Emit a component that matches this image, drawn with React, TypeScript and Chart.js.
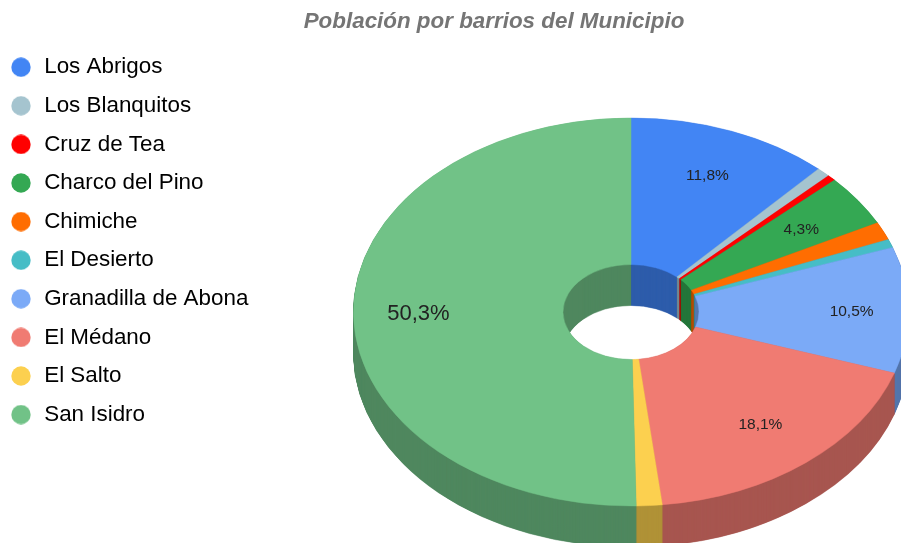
import React, { useEffect, useRef } from "react";
import { Chart, registerables } from "chart.js";

Chart.register(...registerables);

const chartTitle = "Población por barrios del Municipio";
const barrios = [
  "Los Abrigos",
  "Los Blanquitos",
  "Cruz de Tea",
  "Charco del Pino",
  "Chimiche",
  "El Desierto",
  "Granadilla de Abona",
  "El Médano",
  "El Salto",
  "San Isidro",
];
const poblacion = [11.8, 0.8, 0.5, 4.3, 1.5, 0.7, 10.5, 18.1, 1.5, 50.3];
const colores = [
  "#4285f4",
  "#a5c4cf",
  "#ff0000",
  "#34a853",
  "#ff6d01",
  "#46bdc6",
  "#7baaf7",
  "#f07b72",
  "#fcd04f",
  "#71c287",
];

const CX = 631;
const CY = 312;
const RX = 277.5;
const RY = 194;
const DEPTH = 41;
const SHADE = 0.7;
const MIN_LABEL = 4;
const labelRadius = new Map<number, number>([
  [11.8, 0.76],
  [4.3, 0.75],
  [10.5, 0.795],
  [18.1, 0.74],
  [50.3, 0.766],
]);

const shade = (hex: string) => {
  const n = parseInt(hex.slice(1), 16);
  const c = (v: number) => Math.round(v * SHADE);
  return `rgb(${c((n >> 16) & 255)},${c((n >> 8) & 255)},${c(n & 255)})`;
};

const dot = (color: string) => {
  const c = document.createElement("canvas");
  c.width = 24;
  c.height = 20;
  const x = c.getContext("2d")!;
  x.fillStyle = color;
  x.beginPath();
  x.arc(12, 10, 9.7, 0, Math.PI * 2);
  x.fill();
  return c;
};

const pie3d = {
  id: "pie3d",
  afterLayout(chart: any) {
    const t = chart.titleBlock;
    const w = t.right - t.left;
    t.left = 494 - w / 2;
    t.right = 494 + w / 2;
    const l = chart.legend;
    const p = l.options.labels.padding;
    l.left = 9 - p;
    l.top = 56 - p;
    l.bottom = 543;
  },
  beforeDatasetsDraw(chart: any) {
    const { ctx } = chart;
    const arcs = chart.getDatasetMeta(0).data;
    const place = (arc: any, d: number) => {
      const s = RX / arc.outerRadius;
      const v = RY / arc.outerRadius;
      ctx.setTransform(s, 0, 0, v, CX - arc.x * s, CY + d - arc.y * v);
    };
    ctx.save();
    for (let d = DEPTH; d > 0; d -= 0.5) {
      arcs.forEach((arc: any, i: number) => {
        const own = arc.options;
        const dark = shade(colores[i]);
        arc.options = { ...own, backgroundColor: dark, borderColor: dark };
        place(arc, d);
        arc.draw(ctx);
        arc.options = own;
      });
    }
    arcs.forEach((arc: any) => {
      place(arc, 0);
      arc.draw(ctx);
    });
    ctx.setTransform(1, 0, 0, 1, 0, 0);
    ctx.restore();

    ctx.save();
    ctx.textAlign = "center";
    ctx.textBaseline = "middle";
    ctx.fillStyle = "#222222";
    arcs.forEach((arc: any, i: number) => {
      const value = poblacion[i];
      if (value < MIN_LABEL) return;
      const mid = (arc.startAngle + arc.endAngle) / 2;
      const size = value >= 50 ? 22 : 15.5;
      const r = labelRadius.get(value) ?? 0.76;
      ctx.font = `${size}px "Liberation Sans"`;
      ctx.fillText(
        `${value.toFixed(1).replace(".", ",")}%`,
        CX + Math.cos(mid) * RX * r,
        CY + Math.sin(mid) * RY * r + 1
      );
    });
    ctx.restore();
    return false;
  },
};

export default function App() {
  const ref = useRef<HTMLCanvasElement>(null);
  useEffect(() => {
    const chart = new Chart(ref.current!, {
      type: "doughnut",
      data: {
        labels: barrios,
        datasets: [
          {
            data: poblacion,
            backgroundColor: colores,
            borderColor: colores,
            borderWidth: 0.5,
          },
        ],
      },
      options: {
        animation: false,
        responsive: false,
        cutout: "24.5%",
        plugins: {
          tooltip: { enabled: false },
          title: {
            display: true,
            text: chartTitle,
            color: "#757575",
            font: { family: '"Liberation Sans"', size: 22.4, weight: "bold", style: "italic" },
            padding: { top: 8, bottom: 8 },
          },
          legend: {
            position: "left",
            align: "start",
            labels: {
              usePointStyle: true,
              pointStyleWidth: 24,
              padding: 16.2,
              color: "#222222",
              font: { family: '"Liberation Sans"', size: 22.4 },
              generateLabels: () =>
                barrios.map((text, i) => ({
                  text,
                  fillStyle: colores[i],
                  strokeStyle: colores[i],
                  lineWidth: 0,
                  hidden: false,
                  index: i,
                  pointStyle: dot(colores[i]),
                })),
            },
          },
        },
      },
      plugins: [pie3d],
    } as any);
    return () => chart.destroy();
  }, []);
  return (
    <div style={{ position: "absolute", left: 0, top: 0, width: 901, height: 543, overflow: "hidden", background: "#ffffff" }}>
      <canvas ref={ref} width={901} height={543} style={{ display: "block" }} />
    </div>
  );
}
